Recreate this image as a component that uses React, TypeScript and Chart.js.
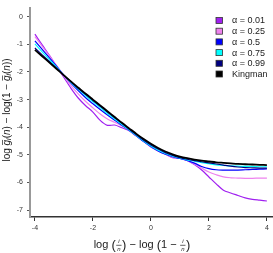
import React, { useEffect, useRef } from "react";
import { Chart, registerables } from "chart.js";

Chart.register(...registerables);

const xValues = [
  -4, -3.75, -3.5, -3.25, -3, -2.75, -2.5, -2.25, -2, -1.75, -1.5, -1.25, -1, -0.75, -0.5, -0.25,
  0, 0.25, 0.5, 0.75, 1, 1.25, 1.5, 1.75, 2, 2.25, 2.5, 2.75, 3, 3.25, 3.5, 3.75, 4,
];

const alpha001 = [
  -0.63, -1.02, -1.4, -1.8, -2.2, -2.6, -2.95, -3.22, -3.45, -3.75, -3.93, -3.92, -4.02, -4.13, -4.32, -4.5,
  -4.72, -4.85, -4.97, -5.1, -5.12, -5.2, -5.35, -5.55, -5.8, -6.05, -6.28, -6.38, -6.47, -6.56, -6.61, -6.64, -6.67,
];
const alpha025 = [
  -0.72, -1.07, -1.42, -1.77, -2.14, -2.5, -2.8, -3.07, -3.3, -3.52, -3.7, -3.82, -3.95, -4.1, -4.3, -4.52,
  -4.7, -4.86, -4.98, -5.08, -5.13, -5.2, -5.33, -5.48, -5.62, -5.72, -5.8, -5.83, -5.84, -5.85, -5.85, -5.84, -5.84,
];
const alpha05 = [
  -0.87, -1.18, -1.49, -1.8, -2.12, -2.41, -2.68, -2.93, -3.15, -3.36, -3.56, -3.75, -3.93, -4.11, -4.31, -4.52,
  -4.7, -4.86, -4.98, -5.07, -5.13, -5.2, -5.3, -5.42, -5.5, -5.54, -5.55, -5.55, -5.55, -5.54, -5.53, -5.52, -5.51,
];
const alpha075 = [
  -0.98, -1.27, -1.55, -1.83, -2.12, -2.38, -2.63, -2.86, -3.08, -3.29, -3.5, -3.7, -3.9, -4.1, -4.3, -4.5,
  -4.68, -4.83, -4.95, -5.05, -5.12, -5.18, -5.23, -5.28, -5.32, -5.36, -5.38, -5.4, -5.41, -5.42, -5.42, -5.43, -5.43,
];
const alpha099 = [
  -1.13, -1.38, -1.62, -1.87, -2.12, -2.36, -2.6, -2.82, -3.03, -3.24, -3.45, -3.66, -3.86, -4.07, -4.27, -4.47,
  -4.64, -4.79, -4.92, -5.02, -5.1, -5.16, -5.21, -5.25, -5.29, -5.33, -5.37, -5.41, -5.44, -5.46, -5.47, -5.48, -5.48,
];
const kingman = [
  -1.2, -1.43, -1.66, -1.89, -2.12, -2.35, -2.57, -2.79, -3.0, -3.21, -3.42, -3.63, -3.84, -4.04, -4.24, -4.43,
  -4.6, -4.75, -4.88, -4.98, -5.06, -5.12, -5.17, -5.21, -5.24, -5.27, -5.29, -5.31, -5.33, -5.34, -5.35, -5.36, -5.37,
];

const seriesLabels = ["α = 0.01", "α = 0.25", "α = 0.5", "α = 0.75", "α = 0.99", "Kingman"];
const seriesColors = ["#A020F0", "#EE82EE", "#0000FF", "#00FFFF", "#000080", "#000000"];
const seriesValues = [alpha001, alpha025, alpha05, alpha075, alpha099, kingman];
const seriesWidths = [1.2, 1.2, 1.2, 1.2, 1.2, 1.8];

const xTicks = [-4, -2, 0, 2, 4];
const yTicks = [0, -1, -2, -3, -4, -5, -6, -7];

type Seg = { t?: string; font: string; dy?: number; overline?: boolean; frac?: [string, string] };

function segWidth(ctx: CanvasRenderingContext2D, s: Seg) {
  if (s.frac) {
    ctx.font = "italic 6px 'Liberation Sans'";
    return Math.max(ctx.measureText(s.frac[0]).width, ctx.measureText(s.frac[1]).width) + 3;
  }
  ctx.font = s.font;
  return ctx.measureText(s.t || "").width;
}

function drawSegs(ctx: CanvasRenderingContext2D, segs: Seg[], cx: number) {
  const widths = segs.map((s) => segWidth(ctx, s));
  const total = widths.reduce((a, b) => a + b, 0);
  let x = cx - total / 2;
  segs.forEach((s, i) => {
    const w = widths[i];
    if (s.frac) {
      ctx.font = "italic 6px 'Liberation Sans'";
      ctx.textAlign = "center";
      ctx.fillText(s.frac[0], x + w / 2, -3.5);
      ctx.fillText(s.frac[1], x + w / 2, 4);
      ctx.beginPath();
      ctx.lineWidth = 0.7;
      ctx.moveTo(x + 0.5, 0.3);
      ctx.lineTo(x + w - 0.5, 0.3);
      ctx.stroke();
      ctx.textAlign = "left";
    } else {
      ctx.font = s.font;
      ctx.textAlign = "left";
      ctx.fillText(s.t || "", x, s.dy || 0);
      if (s.overline) {
        ctx.beginPath();
        ctx.lineWidth = 0.7;
        ctx.moveTo(x + 0.5, -4.5);
        ctx.lineTo(x + w, -4.5);
        ctx.stroke();
      }
    }
    x += w;
  });
}

const decorPlugin = {
  id: "decor",
  afterDraw(chart: any) {
    const ctx: CanvasRenderingContext2D = chart.ctx;
    ctx.save();
    ctx.fillStyle = "#222";
    ctx.strokeStyle = "#222";
    ctx.textBaseline = "middle";

    // x-axis title
    const f = "11px 'Liberation Sans'";
    const fp = "13px 'Liberation Sans'";
    ctx.save();
    ctx.translate(0, 245);
    drawSegs(
      ctx,
      [
        { t: "log ", font: f },
        { t: "(", font: fp },
        { font: f, frac: ["i", "n"] },
        { t: ")", font: fp },
        { t: " − log ", font: f },
        { t: "(", font: fp },
        { t: "1 − ", font: f },
        { font: f, frac: ["i", "n"] },
        { t: ")", font: fp },
      ],
      142
    );
    ctx.restore();

    // y-axis title
    const fy = "10px 'Liberation Sans'";
    const fyi = "italic 10px 'Liberation Sans'";
    const fs = "italic 7px 'Liberation Sans'";
    ctx.save();
    ctx.translate(7, 110);
    ctx.rotate(-Math.PI / 2);
    drawSegs(
      ctx,
      [
        { t: "log ", font: fy },
        { t: "g", font: fyi, overline: true },
        { t: "i", font: fs, dy: 2.5 },
        { t: "(", font: fy },
        { t: "n", font: fyi },
        { t: ") − log(1 − ", font: fy },
        { t: "g", font: fyi, overline: true },
        { t: "i", font: fs, dy: 2.5 },
        { t: "(", font: fy },
        { t: "n", font: fyi },
        { t: "))", font: fy },
      ],
      0
    );
    ctx.restore();

    // legend
    const ds = chart.data.datasets;
    ctx.font = "9px 'Liberation Sans'";
    ctx.textAlign = "left";
    ds.forEach((d: any, i: number) => {
      const cy = 20.5 + i * 10.7;
      ctx.fillStyle = d.borderColor;
      ctx.fillRect(216, cy - 3, 6.5, 6);
      ctx.lineWidth = 0.8;
      ctx.strokeStyle = "#333";
      ctx.strokeRect(216, cy - 3, 6.5, 6);
      ctx.fillStyle = "#222";
      ctx.fillText(d.label, 232, cy + 0.5);
    });
    ctx.restore();
  },
};

export default function App() {
  const ref = useRef<HTMLCanvasElement>(null);
  useEffect(() => {
    document.body.style.margin = "0";
    if (!ref.current) return;
    const chart = new Chart(ref.current, {
      type: "line",
      data: {
        datasets: seriesValues.map((vals, i) => ({
          label: seriesLabels[i],
          data: vals.map((y, j) => ({ x: xValues[j], y })),
          borderColor: seriesColors[i],
          backgroundColor: seriesColors[i],
          borderWidth: seriesWidths[i],
          pointRadius: 0,
          tension: 0.3,
          fill: false,
          order: 5 - i,
        })),
      },
      options: {
        animation: false,
        responsive: false,
        maintainAspectRatio: false,
        layout: { padding: { left: 0, right: 0, top: 0, bottom: 0 } },
        plugins: { legend: { display: false }, tooltip: { enabled: false }, title: { display: false } },
        scales: {
          x: {
            type: "linear",
            min: -4.17,
            max: 4.21,
            afterFit: (s: any) => {
              s.height = 36;
            },
            afterBuildTicks: (s: any) => {
              s.ticks = xTicks.map((v) => ({ value: v }));
            },
            ticks: { font: { size: 7, family: "'Liberation Sans'" }, color: "#333", padding: 3, maxRotation: 0 },
            grid: { drawOnChartArea: false, drawTicks: true, tickLength: 4, tickColor: "#333", tickWidth: 1 },
            border: { display: true, color: "#333", width: 1.5 },
          },
          y: {
            type: "linear",
            min: -7.25,
            max: 0.31,
            afterFit: (s: any) => {
              s.width = 30;
            },
            afterBuildTicks: (s: any) => {
              s.ticks = yTicks.map((v) => ({ value: v }));
            },
            ticks: { font: { size: 7, family: "'Liberation Sans'" }, color: "#333", padding: 4 },
            grid: { drawOnChartArea: false, drawTicks: true, tickLength: 3, tickColor: "#555", tickWidth: 1 },
            border: { display: true, color: "#999", width: 2 },
          },
        },
      },
      plugins: [decorPlugin],
    });
    return () => chart.destroy();
  }, []);
  return (
    <div style={{ width: 273, height: 253, position: "relative" }}>
      <canvas ref={ref} width={273} height={253} style={{ display: "block" }} />
    </div>
  );
}
